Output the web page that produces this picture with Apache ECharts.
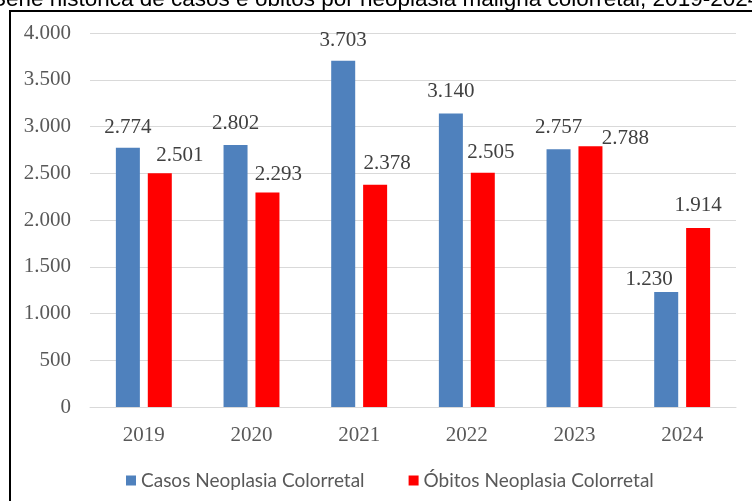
<!DOCTYPE html>
<html>
<head>
<meta charset="utf-8">
<script src="https://cdn.jsdelivr.net/npm/echarts@6/dist/echarts.min.js"></script>
<style>
html,body{margin:0;padding:0;background:#fff;}
#chart{width:752px;height:501px;}
</style>
</head>
<body>
<div id="chart"></div>
<script>
var categories = ['2019', '2020', '2021', '2022', '2023', '2024'];
var casos = [2774, 2802, 3703, 3140, 2757, 1230];
var obitos = [2501, 2293, 2378, 2505, 2788, 1914];
var yTicks = [0, 500, 1000, 1500, 2000, 2500, 3000, 3500, 4000];
var seriesNames = ['Casos Neoplasia Colorretal', 'Óbitos Neoplasia Colorretal'];
var titleText = 'Série histórica de casos e óbitos por neoplasia maligna colorretal, 2019-2024';

// label offsets (layout only)
var casosOffsets = [[0,-5],[0,-6],[0,-5],[0,-6],[0,-6],[-17,3]];
var obitosOffsets = [[20,-2],[11,-3],[12,-6],[8,-5],[35,8],[0,-7]];

function fmt(v){
  var s = String(Math.round(v));
  return s.replace(/\B(?=(\d{3})+(?!\d))/g, '.');
}

var serif = '"Liberation Serif", "DejaVu Serif", serif';
var legendFont = 'Lato, "Liberation Sans", sans-serif';

function buildData(vals, offs){
  return vals.map(function(v, i){
    return { value: v, label: { offset: offs[i] } };
  });
}

var chart = echarts.init(document.getElementById('chart'), null, {renderer: 'canvas'});
chart.setOption({
  animation: false,
  backgroundColor: '#ffffff',
  graphic: [
    {
      type: 'rect',
      shape: { x: 10, y: 11, width: 800, height: 600 },
      style: { fill: 'none', stroke: '#000000', lineWidth: 2 },
      silent: true, z: 100
    },
    {
      type: 'text',
      x: -9, y: 11,
      style: {
        text: titleText,
        font: '22.5px "Liberation Sans", sans-serif',
        fill: '#000000',
        verticalAlign: 'bottom',
        align: 'left'
      },
      silent: true
    }
  ],
  grid: { left: 90, right: 16, top: 33, bottom: 94, containLabel: false },
  legend: {
    data: seriesNames,
    left: 121,
    top: 466,
    itemWidth: 10,
    itemHeight: 10,
    itemGap: 44,
    icon: 'rect',
    textStyle: { fontFamily: legendFont, fontSize: 19, color: '#595959' }
  },
  xAxis: {
    type: 'category',
    data: categories,
    axisLine: { show: true, lineStyle: { color: '#d9d9d9', width: 1 } },
    axisTick: { show: false },
    axisLabel: { fontFamily: serif, fontSize: 21, color: '#595959', margin: 18 }
  },
  yAxis: {
    type: 'value',
    min: yTicks[0],
    max: yTicks[yTicks.length - 1],
    interval: yTicks[1] - yTicks[0],
    axisLine: { show: false },
    axisTick: { show: false },
    splitLine: { lineStyle: { color: '#d9d9d9', width: 1 } },
    axisLabel: { fontFamily: serif, fontSize: 21, color: '#595959', margin: 19, formatter: fmt }
  },
  series: [
    {
      name: seriesNames[0],
      type: 'bar',
      data: buildData(casos, casosOffsets),
      barWidth: 24,
      barGap: '33%',
      itemStyle: { color: '#4f81bd' },
      label: { show: true, position: 'top', distance: 5, fontFamily: serif, fontSize: 21, color: '#404040', formatter: function(p){ return fmt(p.value); } }
    },
    {
      name: seriesNames[1],
      type: 'bar',
      data: buildData(obitos, obitosOffsets),
      barWidth: 24,
      itemStyle: { color: '#ff0000' },
      label: { show: true, position: 'top', distance: 5, fontFamily: serif, fontSize: 21, color: '#404040', formatter: function(p){ return fmt(p.value); } }
    }
  ]
});
</script>
</body>
</html>
